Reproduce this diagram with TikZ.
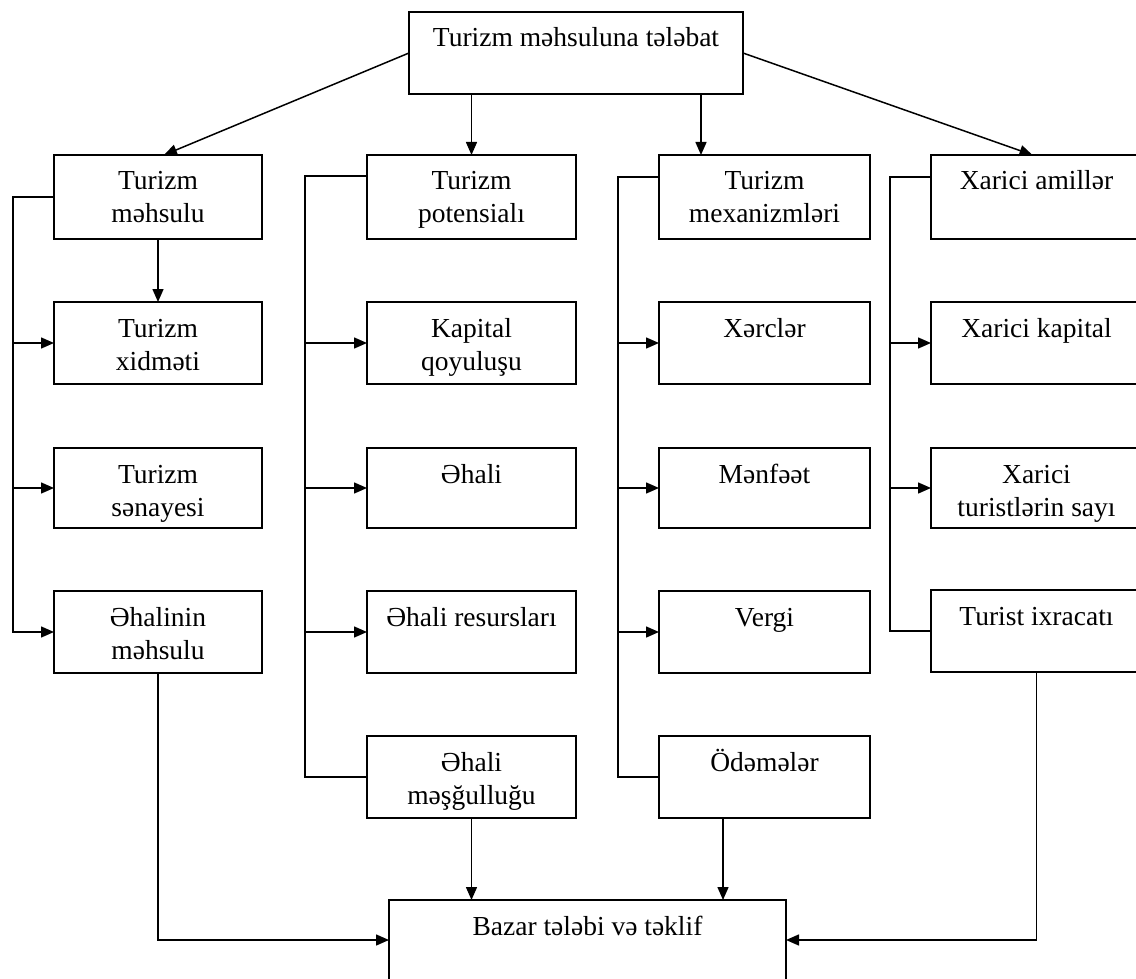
\documentclass[tikz,border=0pt]{standalone}
\usepackage{fontspec}
\setmainfont{Liberation Serif}
\usetikzlibrary{arrows.meta,calc}
\newcommand{\bxt}[3]{\parbox[c][#2][t]{#1}{\centering\rule{0pt}{35pt}#3}}
\begin{document}
\begin{tikzpicture}[x=1pt,y=-1pt,
  box/.style={draw=black, line width=1.5pt, inner sep=0pt, outer sep=0pt, font=\fontsize{27.5}{33}\selectfont},
  lin/.style={draw=black, line width=1.5pt},
  arr/.style={lin, -{Triangle[length=13pt,width=11pt]}}]
\useasboundingbox (0,0) rectangle (1136,979);
\clip (0,0) rectangle (1136,979);
\fill[white] (0,0) rectangle (1136,979);
% top
\node[box] (top) at (576,53) {\bxt{334pt}{82pt}{Turizm məhsuluna tələbat}};
% column 1
\node[box] (c1r1) at (158,197) {\bxt{208pt}{84pt}{Turizm\\məhsulu}};
\node[box] (c1r2) at (158,343) {\bxt{208pt}{82pt}{Turizm\\xidməti}};
\node[box] (c1r3) at (158,488) {\bxt{208pt}{80pt}{Turizm\\sənayesi}};
\node[box] (c1r4) at (158,632) {\bxt{208pt}{82pt}{Əhalinin\\məhsulu}};
% column 2
\node[box] (c2r1) at (471.5,197) {\bxt{209pt}{84pt}{Turizm\\potensialı}};
\node[box] (c2r2) at (471.5,343) {\bxt{209pt}{82pt}{Kapital\\qoyuluşu}};
\node[box] (c2r3) at (471.5,488) {\bxt{209pt}{80pt}{Əhali}};
\node[box] (c2r4) at (471.5,632) {\bxt{209pt}{82pt}{Əhali resursları}};
\node[box] (c2r5) at (471.5,777) {\bxt{209pt}{82pt}{Əhali\\məşğulluğu}};
% column 3
\node[box] (c3r1) at (764.5,197) {\bxt{211pt}{84pt}{Turizm\\mexanizmləri}};
\node[box] (c3r2) at (764.5,343) {\bxt{211pt}{82pt}{Xərclər}};
\node[box] (c3r3) at (764.5,488) {\bxt{211pt}{80pt}{Mənfəət}};
\node[box] (c3r4) at (764.5,632) {\bxt{211pt}{82pt}{Vergi}};
\node[box] (c3r5) at (764.5,777) {\bxt{211pt}{82pt}{Ödəmələr}};
% column 4
\node[box] (c4r1) at (1036.5,197) {\bxt{211pt}{84pt}{Xarici amillər}};
\node[box] (c4r2) at (1036.5,343) {\bxt{211pt}{82pt}{Xarici kapital}};
\node[box] (c4r3) at (1036.5,488) {\bxt{211pt}{80pt}{Xarici\\turistlərin sayı}};
\node[box] (c4r4) at (1036.5,631) {\bxt{211pt}{82pt}{Turist ixracatı}};
% bottom
\node[box] (bot) at (587.5,940) {\bxt{397pt}{80pt}{Bazar tələbi və təklif}};
% top arrows
\draw[arr] (top.west) -- ([xshift=6pt]c1r1.north);
\draw[arr] (c2r1.north |- top.south) -- (c2r1.north);
\path ($(c3r1.north west)+(42,0)$) coordinate (a3);
\draw[arr] (a3 |- top.south) -- (a3);
\draw[arr] (top.east) -- ([xshift=-4pt]c4r1.north);
\draw[arr] (c1r1.south) -- (c1r2.north);
% column 1 bracket
\draw[arr] (c1r1.west) -| ([xshift=-41pt]c1r4.west) -- (c1r4.west);
\draw[arr] ([xshift=-41pt]c1r2.west) -- (c1r2.west);
\draw[arr] ([xshift=-41pt]c1r3.west) -- (c1r3.west);
% column 2 bracket
\draw[lin] ([yshift=-21pt]c2r1.north west) -| ([xshift=-62pt]c2r5.west) -- (c2r5.west);
\draw[arr] ([xshift=-62pt]c2r2.west) -- (c2r2.west);
\draw[arr] ([xshift=-62pt]c2r3.west) -- (c2r3.west);
\draw[arr] ([xshift=-62pt]c2r4.west) -- (c2r4.west);
% column 3 bracket
\draw[lin] ([yshift=-22pt]c3r1.north west) -| ([xshift=-41pt]c3r5.west) -- (c3r5.west);
\draw[arr] ([xshift=-41pt]c3r2.west) -- (c3r2.west);
\draw[arr] ([xshift=-41pt]c3r3.west) -- (c3r3.west);
\draw[arr] ([xshift=-41pt]c3r4.west) -- (c3r4.west);
% column 4 bracket
\draw[lin] ([yshift=-22pt]c4r1.north west) -| ([xshift=-41pt]c4r4.west) -- (c4r4.west);
\draw[arr] ([xshift=-41pt]c4r2.west) -- (c4r2.west);
\draw[arr] ([xshift=-41pt]c4r3.west) -- (c4r3.west);
% to bottom
\draw[arr] (c1r4.south) |- (bot.west);
\draw[arr] (c2r5.south) -- (c2r5.south |- bot.north);
\path ($(c3r5.south west)+(64,0)$) coordinate (d3);
\draw[arr] (d3) -- (d3 |- bot.north);
\draw[arr] (c4r4.south) |- (bot.east);
\end{tikzpicture}
\end{document}
